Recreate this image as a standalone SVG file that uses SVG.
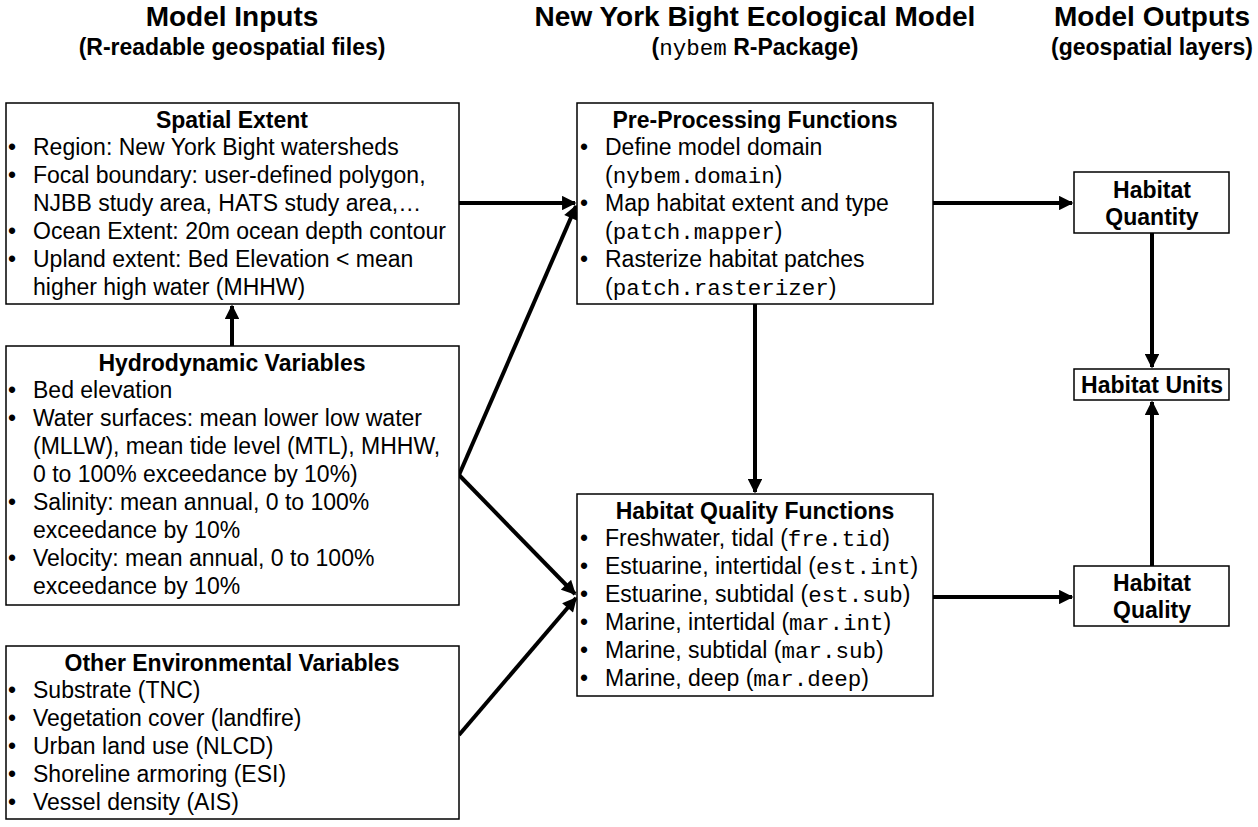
<svg xmlns="http://www.w3.org/2000/svg" width="1258" height="827" viewBox="0 0 1258 827">
<defs>
<marker id="ah" viewBox="0 0 10 10" refX="9" refY="5" markerWidth="4" markerHeight="3.6" markerUnits="strokeWidth" orient="auto">
<path d="M0,0 L10,5 L0,10 Z" fill="#000"/>
</marker>
<style>
.box{fill:#fff;stroke:#000;stroke-width:1.5}
.t{font-family:"Liberation Sans",Arial,sans-serif;font-size:23px;fill:#000}
.b{font-weight:bold}
.m{font-family:"Liberation Mono","Courier New",monospace;font-size:22.5px}
.h1{font-family:"Liberation Sans",Arial,sans-serif;font-size:28px;font-weight:bold;text-anchor:middle}
.h2{font-family:"Liberation Sans",Arial,sans-serif;font-size:23px;font-weight:bold;text-anchor:middle}
.c{text-anchor:middle}
.conn{stroke:#000;stroke-width:4;fill:none;marker-end:url(#ah)}
</style>
</defs>
<rect width="1258" height="827" fill="#fff"/>
<g id="headers">
<text class="h1" x="232" y="26">Model Inputs</text>
<text class="h2" x="232" y="55">(R-readable geospatial files)</text>
<text class="h1" x="755" y="26">New York Bight Ecological Model</text>
<text class="h2" x="755" y="55">(<tspan class="m" font-weight="normal">nybem</tspan> R-Package)</text>
<text class="h1" x="1152" y="26">Model Outputs</text>
<text class="h2" x="1152" y="55">(geospatial layers)</text>
</g>
<g id="connectors">
<line class="conn" x1="459" y1="203" x2="575" y2="203"/>
<line class="conn" x1="459" y1="475" x2="576" y2="206"/>
<line class="conn" x1="459" y1="475" x2="575" y2="594"/>
<line class="conn" x1="459" y1="735" x2="576" y2="598"/>
<line class="conn" x1="232" y1="346" x2="232" y2="306"/>
<line class="conn" x1="755" y1="304" x2="755" y2="492"/>
<line class="conn" x1="933" y1="203" x2="1072" y2="203"/>
<line class="conn" x1="933" y1="597" x2="1072" y2="597"/>
<line class="conn" x1="1152" y1="233" x2="1152" y2="367"/>
<line class="conn" x1="1152" y1="566" x2="1152" y2="402"/>
</g>
<g id="spatial-extent">
<rect class="box" x="6" y="103" width="453" height="201"/>
<text class="t b c" x="232" y="128">Spatial Extent</text>
<text class="t" x="8" y="155">•</text><text class="t" x="33" y="155">Region: New York Bight watersheds</text>
<text class="t" x="8" y="183">•</text><text class="t" x="33" y="183">Focal boundary: user-defined polygon,</text>
<text class="t" x="33" y="211">NJBB study area, HATS study area,…</text>
<text class="t" x="8" y="239">•</text><text class="t" x="33" y="239">Ocean Extent: 20m ocean depth contour</text>
<text class="t" x="8" y="267">•</text><text class="t" x="33" y="267">Upland extent: Bed Elevation &lt; mean</text>
<text class="t" x="33" y="295">higher high water (MHHW)</text>
</g>
<g id="hydrodynamic-variables">
<rect class="box" x="6" y="346" width="453" height="259"/>
<text class="t b c" x="232" y="371">Hydrodynamic Variables</text>
<text class="t" x="8" y="398">•</text><text class="t" x="33" y="398">Bed elevation</text>
<text class="t" x="8" y="426">•</text><text class="t" x="33" y="426">Water surfaces: mean lower low water</text>
<text class="t" x="33" y="454">(MLLW), mean tide level (MTL), MHHW,</text>
<text class="t" x="33" y="482">0 to 100% exceedance by 10%)</text>
<text class="t" x="8" y="510">•</text><text class="t" x="33" y="510">Salinity: mean annual, 0 to 100%</text>
<text class="t" x="33" y="538">exceedance by 10%</text>
<text class="t" x="8" y="566">•</text><text class="t" x="33" y="566">Velocity: mean annual, 0 to 100%</text>
<text class="t" x="33" y="594">exceedance by 10%</text>
</g>
<g id="other-environmental-variables">
<rect class="box" x="6" y="646" width="453" height="173"/>
<text class="t b c" x="232" y="671">Other Environmental Variables</text>
<text class="t" x="8" y="698">•</text><text class="t" x="33" y="698">Substrate (TNC)</text>
<text class="t" x="8" y="726">•</text><text class="t" x="33" y="726">Vegetation cover (landfire)</text>
<text class="t" x="8" y="754">•</text><text class="t" x="33" y="754">Urban land use (NLCD)</text>
<text class="t" x="8" y="782">•</text><text class="t" x="33" y="782">Shoreline armoring (ESI)</text>
<text class="t" x="8" y="810">•</text><text class="t" x="33" y="810">Vessel density (AIS)</text>
</g>
<g id="pre-processing-functions">
<rect class="box" x="577" y="103" width="356" height="201"/>
<text class="t b c" x="755" y="128">Pre-Processing Functions</text>
<text class="t" x="580" y="155">•</text><text class="t" x="605" y="155">Define model domain</text>
<text class="t" x="605" y="183">(<tspan class="m">nybem.domain</tspan>)</text>
<text class="t" x="580" y="211">•</text><text class="t" x="605" y="211">Map habitat extent and type</text>
<text class="t" x="605" y="239">(<tspan class="m">patch.mapper</tspan>)</text>
<text class="t" x="580" y="267">•</text><text class="t" x="605" y="267">Rasterize habitat patches</text>
<text class="t" x="605" y="295">(<tspan class="m">patch.rasterizer</tspan>)</text>
</g>
<g id="habitat-quality-functions">
<rect class="box" x="577" y="494" width="356" height="202"/>
<text class="t b c" x="755" y="519">Habitat Quality Functions</text>
<text class="t" x="580" y="546">•</text><text class="t" x="605" y="546">Freshwater, tidal (<tspan class="m">fre.tid</tspan>)</text>
<text class="t" x="580" y="574">•</text><text class="t" x="605" y="574">Estuarine, intertidal (<tspan class="m">est.int</tspan>)</text>
<text class="t" x="580" y="602">•</text><text class="t" x="605" y="602">Estuarine, subtidal (<tspan class="m">est.sub</tspan>)</text>
<text class="t" x="580" y="630">•</text><text class="t" x="605" y="630">Marine, intertidal (<tspan class="m">mar.int</tspan>)</text>
<text class="t" x="580" y="658">•</text><text class="t" x="605" y="658">Marine, subtidal (<tspan class="m">mar.sub</tspan>)</text>
<text class="t" x="580" y="686">•</text><text class="t" x="605" y="686">Marine, deep (<tspan class="m">mar.deep</tspan>)</text>
</g>
<g id="habitat-quantity">
<rect class="box" x="1074" y="172" width="155" height="61"/>
<text class="t b c" x="1152" y="198">Habitat</text>
<text class="t b c" x="1152" y="225">Quantity</text>
</g>
<g id="habitat-units">
<rect class="box" x="1074" y="369" width="155" height="31"/>
<text class="t b c" x="1152" y="393">Habitat Units</text>
</g>
<g id="habitat-quality">
<rect class="box" x="1074" y="566" width="155" height="60"/>
<text class="t b c" x="1152" y="591">Habitat</text>
<text class="t b c" x="1152" y="618">Quality</text>
</g>
</svg>
